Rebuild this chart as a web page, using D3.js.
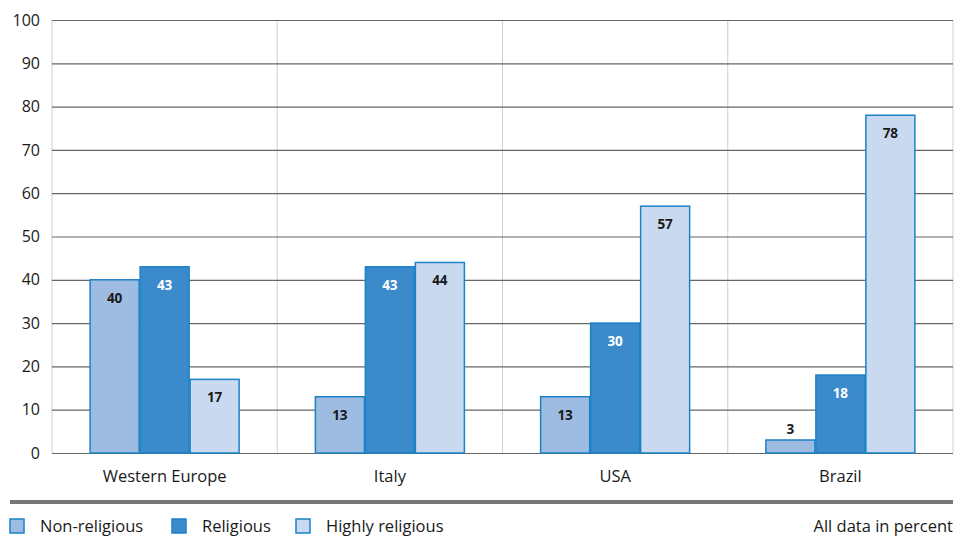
<!DOCTYPE html>
<html>
<head>
<meta charset="utf-8">
<script src="https://cdn.jsdelivr.net/npm/d3@7"></script>
<style>
  body { margin: 0; background: #fff; }
  svg text { font-family: "Open Sans", "Noto Sans", sans-serif; }
</style>
</head>
<body>
<svg id="chart"></svg>
<script>
// Data
const regions = ["Western Europe", "Italy", "USA", "Brazil"];
const seriesNames = ["Non-religious", "Religious", "Highly religious"];
const nonReligious = [40, 13, 13, 3];
const religious = [43, 43, 30, 18];
const highlyReligious = [17, 44, 57, 78];
const yTicks = [0, 10, 20, 30, 40, 50, 60, 70, 80, 90, 100];

const svg_width = 955;
const svg_height = 541;
const pad = { top: 20, left: 52, right: 2, bottom: 88 };

const fills = ["#9ebce2", "#3b8bcc", "#c9daf0"];
const labelColors = ["#1a1a1a", "#ffffff", "#1a1a1a"];
const strokeColor = "#1b82c6";

const svg = d3.select("#chart")
    .attr("width", svg_width)
    .attr("height", svg_height);

const plotW = svg_width - pad.left - pad.right;
const plotH = svg_height - pad.top - pad.bottom;

const g = svg.append("g")
    .attr("transform", `translate(${pad.left}, ${pad.top})`);

// Scales
const xScale = d3.scaleBand()
    .domain(regions)
    .range([0, plotW]);

const xInner = d3.scaleBand()
    .domain(seriesNames)
    .range([(xScale.bandwidth() - 150) / 2, (xScale.bandwidth() + 150) / 2]);

const yScale = d3.scaleLinear()
    .domain([0, 100])
    .range([plotH, 0]);

// Vertical separators
g.selectAll(".vsep")
    .data(regions)
    .enter()
    .append("line")
    .attr("x1", d => xScale(d) + xScale.bandwidth())
    .attr("x2", d => xScale(d) + xScale.bandwidth())
    .attr("y1", 0)
    .attr("y2", plotH)
    .attr("stroke", "#cfcfcf")
    .attr("stroke-width", 1);

g.append("line")
    .attr("x1", 0).attr("x2", 0)
    .attr("y1", 0).attr("y2", plotH)
    .attr("stroke", "#cfcfcf");

// Horizontal gridlines
g.selectAll(".hgrid")
    .data(yTicks)
    .enter()
    .append("line")
    .attr("x1", 0)
    .attr("x2", plotW)
    .attr("y1", d => yScale(d) + 0.5)
    .attr("y2", d => yScale(d) + 0.5)
    .attr("stroke", "#666")
    .attr("stroke-width", 1.2);

// Y axis labels
const yAxis = d3.axisLeft(yScale).tickValues(yTicks).tickSize(0).tickPadding(12);
const yg = g.append("g").call(yAxis);
yg.select(".domain").remove();
yg.selectAll("text")
    .attr("font-size", 16)
    .attr("fill", "#1a1a1a")
    .style("font-family", "\"Open Sans\", sans-serif");

// X axis labels
const xAxis = d3.axisBottom(xScale).tickSize(0).tickPadding(17);
const xg = g.append("g")
    .attr("transform", `translate(0, ${plotH})`)
    .call(xAxis);
xg.select(".domain").remove();
xg.selectAll("text")
    .attr("font-size", 16.5)
    .attr("fill", "#1a1a1a")
    .style("font-family", "\"Open Sans\", sans-serif");

// Bars
const rows = regions.map((r, i) => ({
    region: r,
    values: [nonReligious[i], religious[i], highlyReligious[i]]
}));

const groups = g.selectAll(".grp")
    .data(rows)
    .enter()
    .append("g")
    .attr("transform", d => `translate(${xScale(d.region)}, 0)`);

groups.selectAll("rect")
    .data(d => d.values.map((v, k) => ({ key: seriesNames[k], k: k, v: v })))
    .enter()
    .append("rect")
    .attr("x", d => xInner(d.key) + 0.5)
    .attr("y", d => yScale(d.v))
    .attr("width", xInner.bandwidth() - 1)
    .attr("height", d => yScale(0) - yScale(d.v))
    .attr("fill", d => fills[d.k])
    .attr("stroke", strokeColor)
    .attr("stroke-width", 1.5);

groups.selectAll(".val")
    .data(d => d.values.map((v, k) => ({ key: seriesNames[k], k: k, v: v })))
    .enter()
    .append("text")
    .attr("x", d => xInner(d.key) + xInner.bandwidth() / 2)
    .attr("y", d => d.v < 6 ? yScale(d.v) - 6 : yScale(d.v) + 23)
    .attr("text-anchor", "middle")
    .attr("font-size", 13.5)
    .attr("font-weight", "bold")
    .attr("fill", d => d.v < 6 ? "#1a1a1a" : labelColors[d.k])
    .text(d => d.v);

// Bottom separator
svg.append("line")
    .attr("x1", 10)
    .attr("x2", 953)
    .attr("y1", 502)
    .attr("y2", 502)
    .attr("stroke", "#777")
    .attr("stroke-width", 4);

// Legend
const legendX = [10, 172, 296];
const legend = svg.selectAll(".leg")
    .data(seriesNames)
    .enter()
    .append("g")
    .attr("transform", (d, i) => `translate(${legendX[i]}, 519)`);

legend.append("rect")
    .attr("width", 14)
    .attr("height", 14)
    .attr("fill", (d, i) => fills[i])
    .attr("stroke", strokeColor)
    .attr("stroke-width", 1.5);

legend.append("text")
    .attr("x", 30)
    .attr("y", 13)
    .attr("font-size", 16.5)
    .attr("fill", "#1a1a1a")
    .text(d => d);

svg.append("text")
    .attr("x", 953)
    .attr("y", 532)
    .attr("text-anchor", "end")
    .attr("font-size", 16.5)
    .attr("fill", "#1a1a1a")
    .text("All data in percent");
</script>
</body>
</html>
